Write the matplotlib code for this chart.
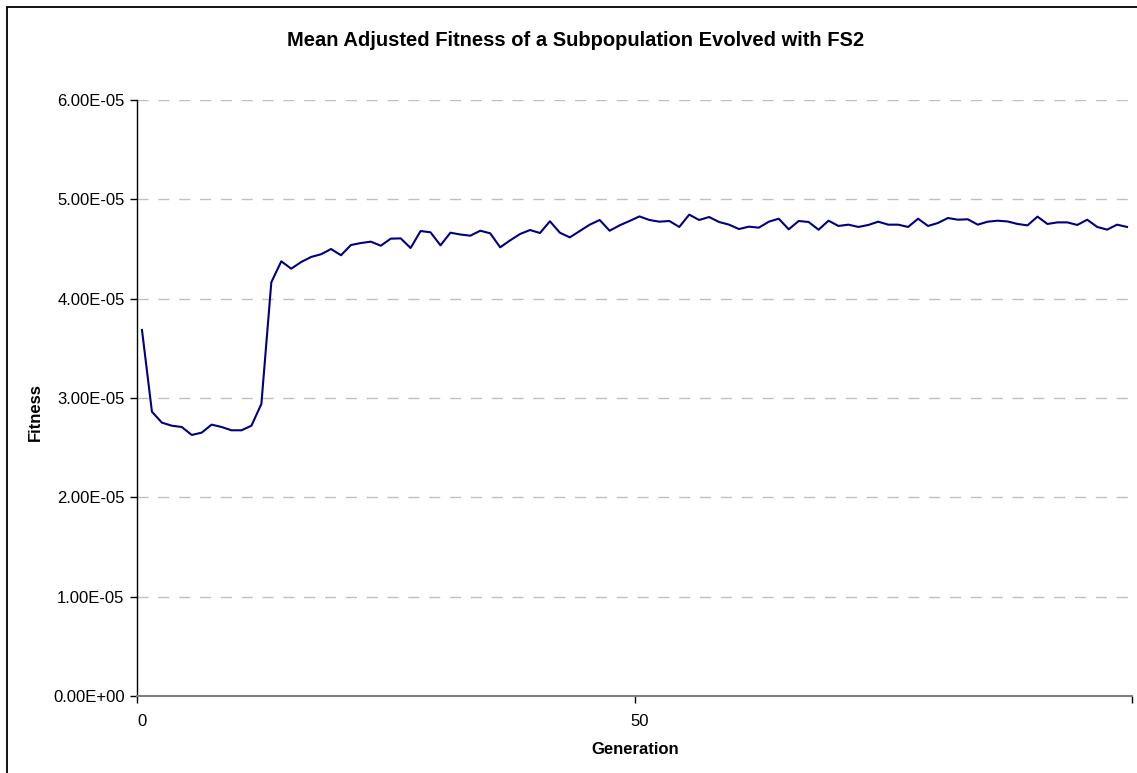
import matplotlib
matplotlib.use("Agg")
import matplotlib.pyplot as plt
from matplotlib.patches import Rectangle
from matplotlib.ticker import FixedLocator, NullFormatter

plt.rcParams['font.family'] = ['Liberation Sans', 'DejaVu Sans']

title = "Mean Adjusted Fitness of a Subpopulation Evolved with FS2"
x_label = "Generation"
y_label = "Fitness"

generations = list(range(100))
fitness_e5 = [
    3.685, 2.862, 2.752, 2.721, 2.708, 2.628, 2.651, 2.732, 2.708, 2.675,
    2.675, 2.721, 2.940, 4.165, 4.376, 4.302, 4.369, 4.420, 4.447, 4.500,
    4.437, 4.540, 4.560, 4.574, 4.533, 4.604, 4.607, 4.510, 4.681, 4.668,
    4.537, 4.664, 4.646, 4.634, 4.684, 4.658, 4.517, 4.587, 4.651, 4.691,
    4.661, 4.779, 4.664, 4.617, 4.681, 4.745, 4.792, 4.684, 4.738, 4.782,
    4.828, 4.792, 4.775, 4.782, 4.722, 4.846, 4.792, 4.822, 4.772, 4.745,
    4.701, 4.725, 4.715, 4.775, 4.805, 4.698, 4.782, 4.772, 4.694, 4.785,
    4.732, 4.745, 4.722, 4.742, 4.775, 4.745, 4.745, 4.722, 4.805, 4.732,
    4.762, 4.812, 4.795, 4.799, 4.745, 4.775, 4.785, 4.777, 4.752, 4.738,
    4.826, 4.752, 4.768, 4.768, 4.742, 4.795, 4.722, 4.695, 4.745, 4.722,
]
fitness = [v * 1e-5 for v in fitness_e5]

y_ticks = [0.0, 1e-5, 2e-5, 3e-5, 4e-5, 5e-5, 6e-5]
y_tick_labels = ["0.00E+00", "1.00E-05", "2.00E-05", "3.00E-05", "4.00E-05", "5.00E-05", "6.00E-05"]
x_label_ticks = [0, 50]
x_mark_ticks = [-0.5, 49.5, 99.5]

W, H = 1137, 773
fig = plt.figure(figsize=(W / 100, H / 100), dpi=100)
fig.patch.set_facecolor('white')

# outer chart border (cut off on right and bottom)
fig.patches.append(Rectangle((7 / W, -0.05), 1.2, 1 - 7 / H + 0.05, transform=fig.transFigure,
                             fill=False, edgecolor='black', linewidth=1.3, zorder=0))

ax = fig.add_axes([137 / W, (H - 696) / H, (1132 - 137) / W, (696 - 100) / H])
ax.plot(generations, fitness, color='#000080', linewidth=1.5, zorder=3)

ax.set_xlim(-0.5, 99.5)
ax.set_ylim(0, 6e-5)

ax.set_yticks(y_ticks)
ax.set_yticklabels(y_tick_labels, fontsize=12)
ax.tick_params(axis='y', direction='out', length=5, width=1, color='black', pad=4)

ax.xaxis.set_major_locator(FixedLocator(x_mark_ticks))
ax.xaxis.set_major_formatter(NullFormatter())
ax.xaxis.set_minor_locator(FixedLocator(x_label_ticks))
ax.set_xticklabels([str(v) for v in x_label_ticks], minor=True, fontsize=12)
ax.tick_params(axis='x', which='major', direction='out', length=5, width=1, color='black')
ax.tick_params(axis='x', which='minor', length=0, pad=13)

for y in y_ticks[1:]:
    ax.axhline(y, color='#c0c0c0', linewidth=1, linestyle=(0, (8, 7)), zorder=1)

for s in ['top', 'right']:
    ax.spines[s].set_visible(False)
ax.spines['left'].set_color('black')
ax.spines['left'].set_linewidth(1)
ax.spines['bottom'].set_color('#808080')
ax.spines['bottom'].set_linewidth(1.5)

fig.text(576 / W, 1 - 40 / H, title, ha='center', va='center', fontsize=14.5, fontweight='bold')
fig.text(635 / W, 1 - 750 / H, x_label, ha='center', va='center', fontsize=12, fontweight='bold')
fig.text(35 / W, 1 - 412 / H, y_label, ha='center', va='center', rotation=90, fontsize=12, fontweight='bold')

fig.savefig('out.png', dpi=100, facecolor='white')
